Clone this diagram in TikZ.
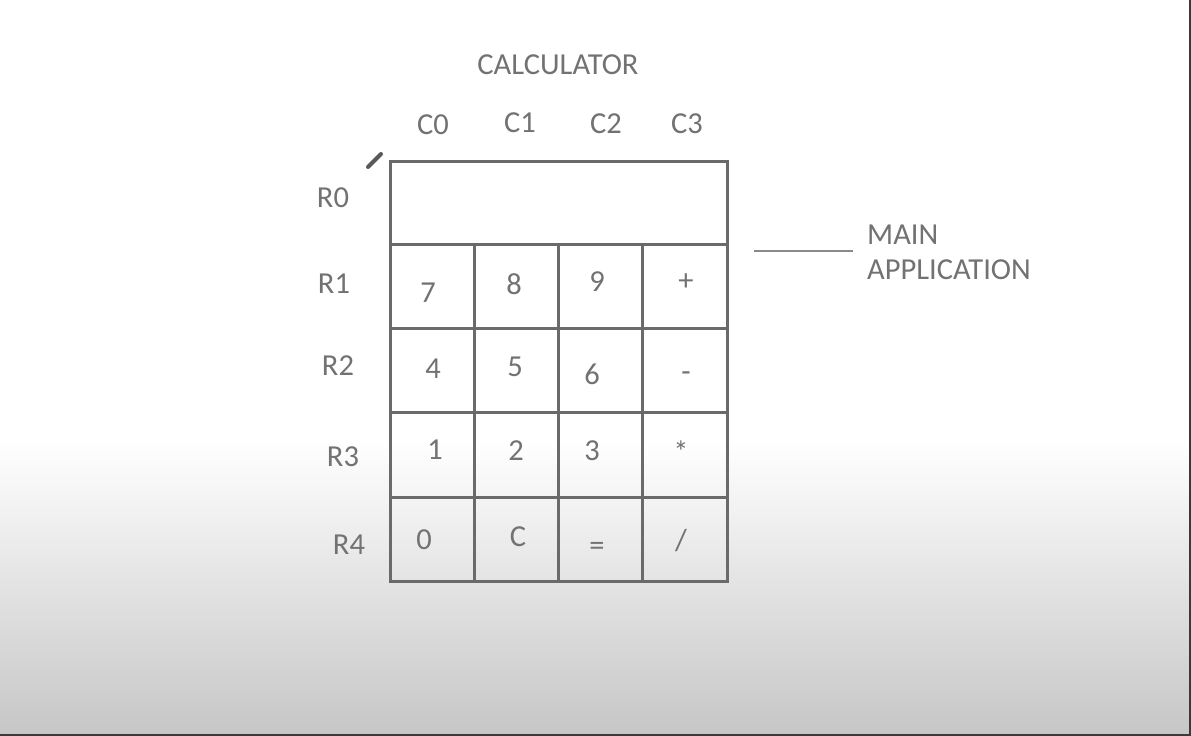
\documentclass[tikz,border=0pt]{standalone}
\usepackage{fontspec}
\setmainfont{Carlito}
\definecolor{txt}{HTML}{727272}
\definecolor{gridc}{HTML}{6A6A6A}
\definecolor{linec}{HTML}{8A8A8A}
\definecolor{bgbot}{HTML}{C6C6C6}
\definecolor{edge}{HTML}{3A3A3A}
\tikzset{
  lbl/.style={font=\fontsize{30.5}{32}\selectfont, text=txt, inner sep=0pt, text height=19.3pt, text depth=0pt},
  cellbox/.style={draw=gridc, line width=3pt, minimum width=84pt, minimum height=84pt, inner sep=0pt},
}
\begin{document}
\begin{tikzpicture}[x=1pt,y=-1pt]
\useasboundingbox (0,0) rectangle (1191,736);
% background
\fill[white] (0,0) rectangle (1191,736);
\shade[top color=white, bottom color=bgbot] (0,440) rectangle (1191,736);
\draw[edge, line width=2pt] (0,735) -- (1191,735);
\draw[edge, line width=2pt] (1190,0) -- (1190,736);
% pencil cursor
\draw[black!65, line width=4pt, line cap=round] (368,167) -- (381,154);
% display cell
\node[cellbox, minimum width=337pt, minimum height=83pt] (disp) at (558.5,202.5) {};
% key cells
\node[cellbox] (k7) at (432,286) {};
\node[cellbox] (k8) at (516,286) {};
\node[cellbox] (k9) at (600,286) {};
\node[cellbox, minimum width=85pt] (kplus) at (684.5,286) {};
\node[cellbox] (k4) at (432,370) {};
\node[cellbox] (k5) at (516,370) {};
\node[cellbox] (k6) at (600,370) {};
\node[cellbox, minimum width=85pt] (kminus) at (684.5,370) {};
\node[cellbox, minimum height=85pt] (k1) at (432,454.5) {};
\node[cellbox, minimum height=85pt] (k2) at (516,454.5) {};
\node[cellbox, minimum height=85pt] (k3) at (600,454.5) {};
\node[cellbox, minimum width=85pt, minimum height=85pt] (kmul) at (684.5,454.5) {};
\node[cellbox] (k0) at (432,539) {};
\node[cellbox] (kc) at (516,539) {};
\node[cellbox] (keq) at (600,539) {};
\node[cellbox, minimum width=85pt] (kdiv) at (684.5,539) {};
% title and headers
\node[lbl] (title) at (558,65) {CALCULATOR};
\node[lbl] (c0) at (433,125) {C0};
\node[lbl] (c1) at (520,123) {C1};
\node[lbl] (c2) at (606,124) {C2};
\node[lbl] (c3) at (687,124) {C3};
\node[lbl] (r0) at (333,198) {R0};
\node[lbl] (r1) at (334,284) {R1};
\node[lbl] (r2) at (338,366) {R2};
\node[lbl] (r3) at (343,457) {R3};
\node[lbl] (r4) at (349,545) {R4};
% key labels
\node[lbl] (t7) at (428,293) {7};
\node[lbl] (t8) at (514,285) {8};
\node[lbl] (t9) at (597,282) {9};
\node[lbl] (tplus) at (686,281) {+};
\node[lbl] (t4) at (433,369) {4};
\node[lbl] (t5) at (515,367) {5};
\node[lbl] (t6) at (592,375) {6};
\node[lbl] (tminus) at (686,372) {-};
\node[lbl] (t1) at (435,450) {1};
\node[lbl] (t2) at (516,451) {2};
\node[lbl] (t3) at (592,451) {3};
\node[lbl] (tmul) at (681,453) {*};
\node[lbl] (t0) at (424,540) {0};
\node[lbl] (tc) at (518,537) {C};
\node[lbl] (teq) at (597,546) {=};
\node[lbl] (tdiv) at (681,541) {/};
% main application label
\node[lbl, anchor=west] (main) at (867,235) {MAIN};
\node[lbl, anchor=west] (app) at (867,270) {APPLICATION};
\coordinate (la) at (754,251);
\coordinate (lb) at (853,251);
\draw[linec, line width=1.5pt] (la) -- (lb);
\end{tikzpicture}
\end{document}
